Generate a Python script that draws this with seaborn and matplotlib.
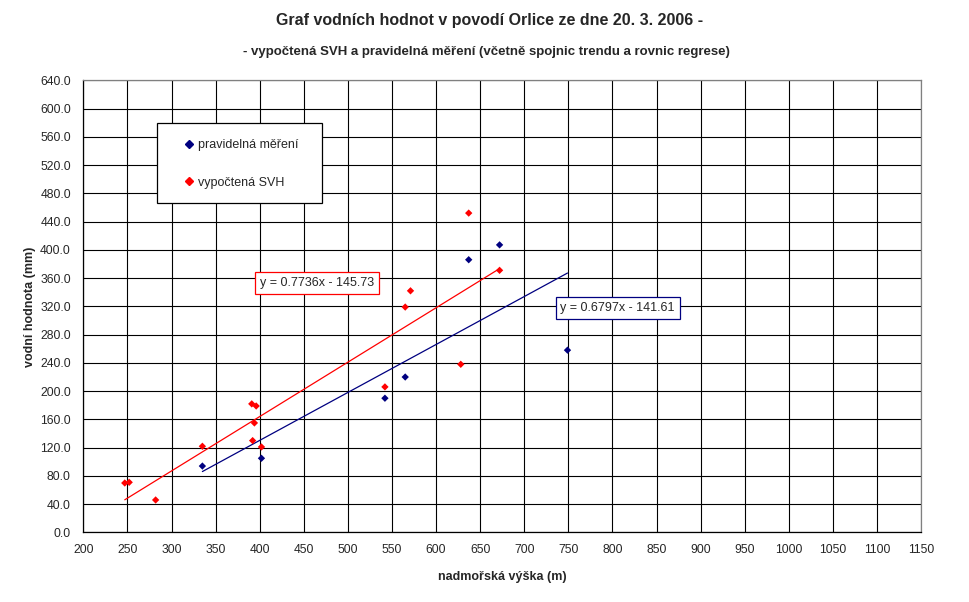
import numpy as np
import pandas as pd
import seaborn as sns
import matplotlib.pyplot as plt
from matplotlib.patches import Rectangle
from matplotlib.ticker import FormatStrFormatter

# pravidelná měření (modrá)
vyska_mereni = [335, 402, 542, 565, 637, 672, 749]
svh_mereni = [94, 105, 190, 220, 386, 407, 258]

# vypočtená SVH (červená)
vyska_svh = [247, 252, 282, 335, 391, 396, 394, 392, 402, 542, 565, 571, 628, 672, 637]
svh_vypoctena = [70, 71, 46, 122, 182, 179, 155, 130, 121, 206, 319, 342, 238, 371, 452]

rovnice_mereni = "y = 0.6797x - 141.61"
rovnice_svh = "y = 0.7736x - 145.73"

x_ticks = list(range(200, 1151, 50))
y_ticks = list(range(0, 641, 40))

modra = "#000080"
cervena = "#FF0000"

sns.set_style("white")
plt.rcParams['font.family'] = ['Liberation Sans', 'DejaVu Sans']

df = pd.concat([
    pd.DataFrame({"x": vyska_mereni, "y": svh_mereni, "serie": "pravidelná měření"}),
    pd.DataFrame({"x": vyska_svh, "y": svh_vypoctena, "serie": "vypočtená SVH"}),
])

fig = plt.figure(figsize=(9.7, 6.02), dpi=100)
ax = fig.add_axes([0.0859, 0.1155, 0.8637, 0.7512])

# trend lines
sns.regplot(data=df[df.serie == "pravidelná měření"], x="x", y="y", ci=None, scatter=False,
            color=modra, line_kws={"linewidth": 0.9, "zorder": 3}, ax=ax)
sns.regplot(data=df[df.serie == "vypočtená SVH"], x="x", y="y", ci=None, scatter=False,
            color=cervena, line_kws={"linewidth": 0.9, "zorder": 3}, ax=ax)

sns.scatterplot(data=df, x="x", y="y", hue="serie", palette=[modra, cervena],
                marker="D", s=14, linewidth=0, zorder=4, legend=False, ax=ax)

ax.set_xlim(200, 1150)
ax.set_ylim(0, 640)
ax.set_xticks(x_ticks)
ax.set_yticks(y_ticks)
ax.yaxis.set_major_formatter(FormatStrFormatter('%.1f'))
ax.grid(True, color="black", linewidth=0.8)
ax.set_axisbelow(True)
ax.tick_params(axis="both", direction="out", length=4, width=0.8, labelsize=8.7,
               color="black", pad=4)
ax.tick_params(axis="y", pad=5)
for s in ["left", "bottom"]:
    ax.spines[s].set_color("black")
    ax.spines[s].set_linewidth(0.9)
for s in ["top", "right"]:
    ax.spines[s].set_color("#808080")
    ax.spines[s].set_linewidth(0.9)

ax.set_xlabel("nadmořská výška (m)", fontsize=9, fontweight="bold", labelpad=11)
ax.set_ylabel("vodní hodnota (mm)", fontsize=9, fontweight="bold", labelpad=3)

# legend box
ax.add_patch(Rectangle((0.088, 0.729), 0.197, 0.176, transform=ax.transAxes,
                       facecolor="white", edgecolor="black", linewidth=0.9, zorder=5))
handles = [plt.Line2D([], [], marker="D", color=c, linestyle="", markersize=3.6)
           for c in [modra, cervena]]
leg = ax.legend(handles, ["pravidelná měření", "vypočtená SVH"], loc="upper left",
                bbox_to_anchor=(0.113, 0.884), frameon=False, fontsize=9,
                handlelength=0.8, handletextpad=0.3, labelspacing=2.05, borderpad=0)
leg.set_zorder(6)

# regression equations
ax.text(465, 353, rovnice_svh, fontsize=9, ha="center", va="center", zorder=6,
        bbox=dict(boxstyle="square,pad=0.38", facecolor="white", edgecolor=cervena, linewidth=0.9))
ax.text(806, 318, rovnice_mereni, fontsize=9, ha="center", va="center", zorder=6,
        bbox=dict(boxstyle="square,pad=0.38", facecolor="white", edgecolor=modra, linewidth=0.9))

fig.text(0.505, 0.966, "Graf vodních hodnot v povodí Orlice ze dne 20. 3. 2006 -",
         fontsize=11.5, fontweight="bold", ha="center", va="center")
fig.text(0.501, 0.913, "- vypočtená SVH a pravidelná měření (včetně spojnic trendu a rovnic regrese)",
         fontsize=9.5, fontweight="bold", ha="center", va="center")

fig.savefig("out.png", dpi=100)
